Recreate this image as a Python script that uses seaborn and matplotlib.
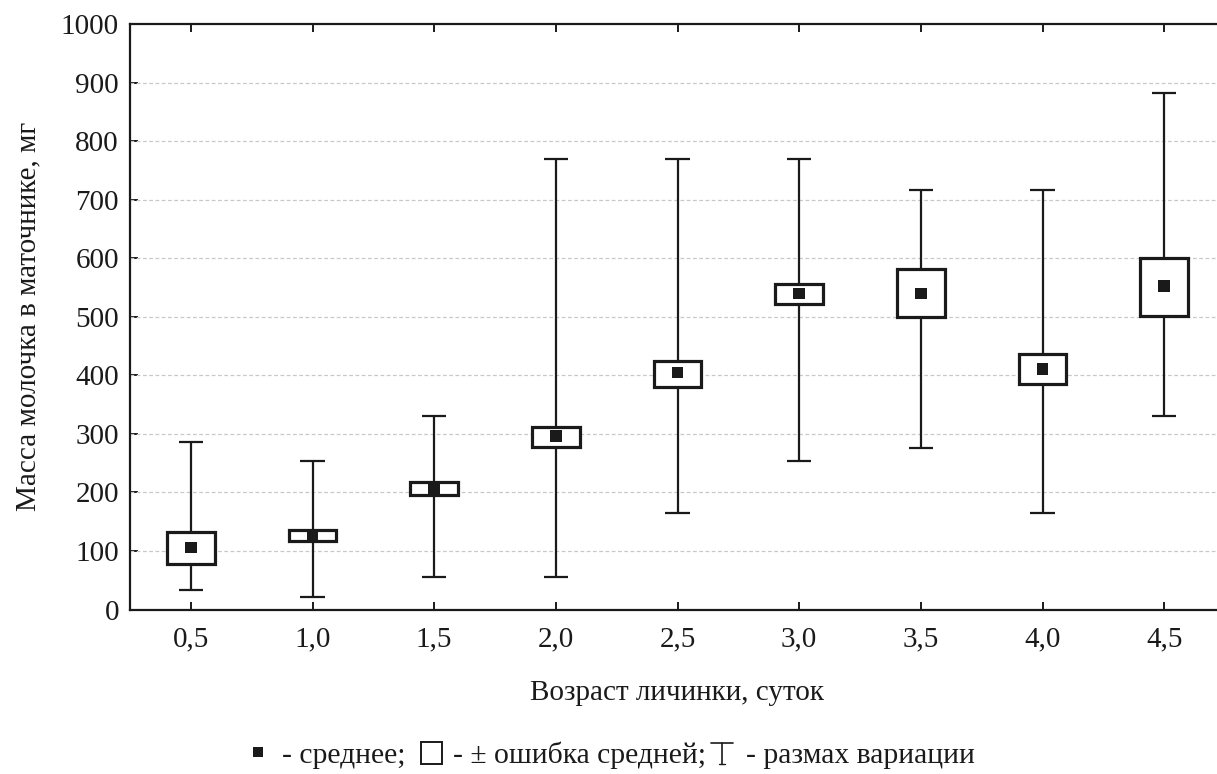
import numpy as np
import pandas as pd
import matplotlib
matplotlib.use("Agg")
import matplotlib.pyplot as plt
from matplotlib.patches import Rectangle
from matplotlib.lines import Line2D
import seaborn as sns

# Data
categories = ['0,5', '1,0', '1,5', '2,0', '2,5', '3,0', '3,5', '4,0', '4,5']
mean_vals = [106, 126, 207, 296, 405, 540, 540, 411, 553]
se_low = [78, 117, 195, 278, 380, 522, 500, 385, 502]
se_high = [132, 136, 217, 312, 425, 556, 581, 437, 600]
min_vals = [33, 22, 55, 55, 165, 253, 276, 165, 330]
max_vals = [286, 253, 330, 770, 770, 770, 716, 716, 882]
y_ticks = [0, 100, 200, 300, 400, 500, 600, 700, 800, 900, 1000]
caption_texts = ['- среднее;', '- ± ошибка средней;', '- размах вариации']

sns.set_theme(style="white")
plt.rcParams['font.family'] = ['Liberation Serif', 'DejaVu Sans']

INK = '#1a1a1a'

df = pd.DataFrame({
    'pos': np.arange(len(categories)),
    'cat': categories,
    'mean': mean_vals,
    'lo': se_low,
    'hi': se_high,
    'mn': min_vals,
    'mx': max_vals,
})

W, H = 1217, 774
fig = plt.figure(figsize=(W / 100, H / 100), dpi=100)
ax = fig.add_axes([130 / W, 1 - 609.5 / H, 1095 / W, (609.5 - 24) / H])

# whiskers (range of variation)
ax.vlines(df['pos'], df['mn'], df['mx'], color=INK, lw=1.6, zorder=2)
cap_w = 0.1
ax.hlines(df['mn'], df['pos'] - cap_w, df['pos'] + cap_w, color=INK, lw=1.6, zorder=2)
ax.hlines(df['mx'], df['pos'] - cap_w, df['pos'] + cap_w, color=INK, lw=1.6, zorder=2)

# +- SE boxes
ax.bar(df['pos'], df['hi'] - df['lo'], bottom=df['lo'], width=0.39,
       color='white', edgecolor=INK, linewidth=2.3, zorder=3)

# means
sns.scatterplot(data=df, x='pos', y='mean', marker='s', s=70, color=INK,
                edgecolor='none', ax=ax, zorder=4, legend=False)

ax.set_xlim(-0.5, 8.5)
ax.set_ylim(0, 1000)
ax.set_xticks(df['pos'])
ax.set_xticklabels(categories)
ax.set_yticks(y_ticks)
ax.set_yticklabels([str(t) for t in y_ticks])

for t in y_ticks[1:-1]:
    ax.axhline(t, color='#c8c8c8', lw=0.9, ls=(0, (3, 2)), zorder=1)

for side in ['left', 'top', 'bottom']:
    ax.spines[side].set_visible(True)
    ax.spines[side].set_color(INK)
    ax.spines[side].set_linewidth(1.6)
ax.spines['right'].set_visible(False)

ax.tick_params(axis='both', which='major', direction='in', length=6, width=1.4,
               color=INK, labelsize=21, labelcolor=INK,
               top=True, right=False, bottom=True, left=True)
ax.tick_params(axis='x', pad=12)
ax.tick_params(axis='y', pad=8)

ax.set_xlabel('Возраст личинки, суток', fontsize=21, color=INK, labelpad=20)
ax.set_ylabel('Масса молочка в маточнике, мг', fontsize=21, color=INK, labelpad=14)

# caption (symbols drawn as shapes, text as real text), in figure pixel positions
def fx(px):
    return px / W

def fy(py):
    return 1 - py / H

base = 763
cap_fs = 21.3
fig.text(fx(282), fy(base), caption_texts[0], fontsize=cap_fs, color=INK, ha='left', va='baseline')
fig.text(fx(453), fy(base), caption_texts[1], fontsize=cap_fs, color=INK, ha='left', va='baseline')
fig.text(fx(746), fy(base), caption_texts[2], fontsize=cap_fs, color=INK, ha='left', va='baseline')

# filled small square (mean)
fig.add_artist(Rectangle((fx(253), fy(757)), 10 / W, 10 / H, transform=fig.transFigure,
                         facecolor=INK, edgecolor='none'))
# hollow square (+- SE)
fig.add_artist(Rectangle((fx(421), fy(764)), 21 / W, 22 / H, transform=fig.transFigure,
                         facecolor='white', edgecolor=INK, linewidth=1.4))
# whisker symbol
fig.add_artist(Line2D([fx(711), fx(733)], [fy(742.5), fy(742.5)], transform=fig.transFigure,
                      color=INK, lw=1.2))
fig.add_artist(Line2D([fx(722), fx(722)], [fy(742.5), fy(764)], transform=fig.transFigure,
                      color=INK, lw=1.2))
fig.add_artist(Line2D([fx(719), fx(725)], [fy(764), fy(764)], transform=fig.transFigure,
                      color=INK, lw=1.0))

fig.savefig('out.png', dpi=100, facecolor='white')
